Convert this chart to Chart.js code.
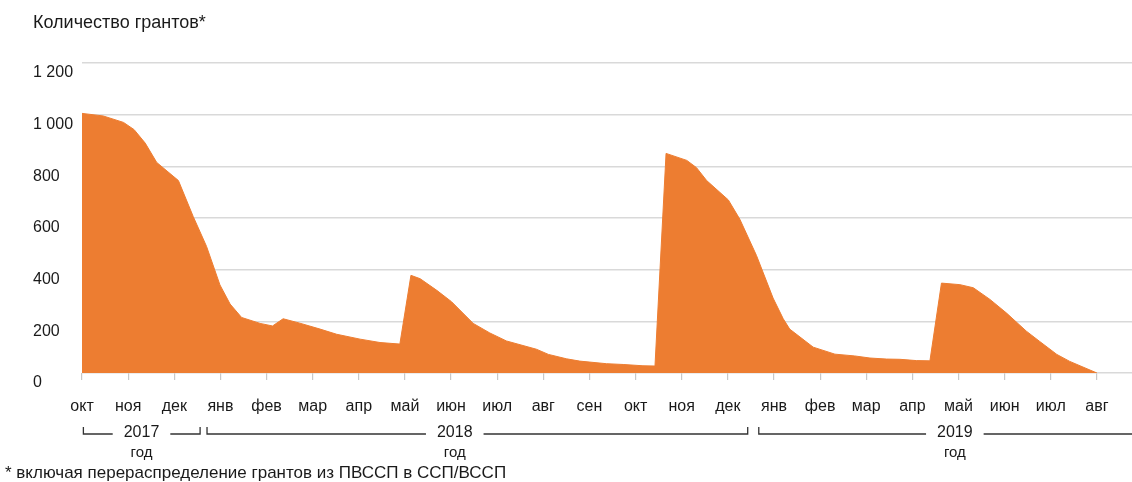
<!DOCTYPE html>
<html lang="ru">
<head>
<meta charset="utf-8">
<script src="https://cdn.jsdelivr.net/npm/chart.js@4.4.1/dist/chart.umd.min.js"></script>
<style>
    body { margin: 0; background: #fff; font-family: "Liberation Sans", Arial, sans-serif; color: #1a1a1a; }
    #wrap { position: relative; width: 1132px; height: 482px; }
    #title { position: absolute; left: 33px; top: 12px; font-size: 18px; }
    #note { position: absolute; left: 5px; top: 463px; font-size: 17px; }
</style>
</head>
<body>
<div id="wrap">
    <canvas id="grantsChart" width="1132" height="482"></canvas>
    <div id="title">Количество грантов*</div>
    <div id="note">* включая перераспределение грантов из ПВССП в ССП/ВССП</div>
</div>
<script>
// months from the start of October 2017
const monthLabels = ["окт", "ноя", "дек", "янв", "фев", "мар", "апр", "май", "июн", "июл", "авг", "сен",
    "окт", "ноя", "дек", "янв", "фев", "мар", "апр", "май", "июн", "июл", "авг"];

const timePoints = [0, 0.46, 0.90, 1.13, 1.37, 1.62, 2.09, 2.41, 2.70, 2.99, 3.21, 3.46, 3.86, 4.13, 4.36,
    4.72, 5.16, 5.52, 6.03, 6.46, 6.89, 7.13, 7.33, 7.69, 8.01, 8.48, 8.84, 9.20, 9.85, 10.11, 10.50,
    10.79, 11.37, 11.73, 12.16, 12.42, 12.66, 13.11, 13.32, 13.54, 14.01, 14.26, 14.62, 14.98, 15.20,
    15.34, 15.85, 16.32, 16.75, 17.08, 17.44, 17.73, 18.09, 18.38, 18.63, 19.03, 19.32, 19.68, 20.04,
    20.47, 20.76, 21.13, 21.41, 22.0];

const grantCounts = [1005, 995, 970, 942, 890, 815, 745, 606, 490, 341, 267, 215, 192, 182, 210,
    193, 170, 150, 131, 118, 112, 378, 365, 320, 276, 192, 155, 124, 92, 72, 55,
    46, 36, 33, 28, 27, 850, 823, 795, 745, 670, 595, 455, 290, 210,
    170, 100, 73, 66, 58, 54, 53, 48, 47, 348, 342, 330, 285, 232,
    162, 122, 72, 45, 0];

const yTicks = [0, 200, 400, 600, 800, 1000, 1200];

const years = [
    { label: "2017", from: 0.03, to: 2.56, center: 1.29, endTick: true },
    { label: "2018", from: 2.71, to: 14.43, center: 8.08, endTick: true },
    { label: "2019", from: 14.67, to: 22.76, center: 18.92, endTick: false }
];

const FONT = "'Liberation Sans', Arial, sans-serif";

// brackets with year labels under the month axis
const yearBrackets = {
    id: "yearBrackets",
    afterDraw(chart) {
        const ctx = chart.ctx;
        const x = chart.scales.x;
        const lineY = 434, tickTop = 427;
        ctx.save();
        ctx.strokeStyle = "#333";
        ctx.lineWidth = 1.3;
        ctx.fillStyle = "#1a1a1a";
        ctx.textAlign = "center";
        ctx.textBaseline = "middle";
        years.forEach(y => {
            const x0 = x.getPixelForValue(y.from);
            const x1 = Math.min(x.getPixelForValue(y.to), chart.width);
            const xc = x.getPixelForValue(y.center);
            ctx.font = "16px " + FONT;
            const half = ctx.measureText(y.label).width / 2 + 11;
            ctx.beginPath();
            ctx.moveTo(x0, tickTop);
            ctx.lineTo(x0, lineY);
            ctx.lineTo(xc - half, lineY);
            ctx.moveTo(xc + half, lineY);
            ctx.lineTo(x1, lineY);
            if (y.endTick) ctx.lineTo(x1, tickTop);
            ctx.stroke();
            ctx.fillText(y.label, xc, 433);
            ctx.font = "15px " + FONT;
            ctx.fillText("год", xc, 453);
        });
        ctx.restore();
    }
};

new Chart(document.getElementById("grantsChart"), {
    type: "line",
    data: {
        datasets: [{
            data: timePoints.map((t, i) => ({ x: t, y: grantCounts[i] })),
            borderColor: "#ED7D31",
            backgroundColor: "#ED7D31",
            borderWidth: 1,
            fill: "origin",
            pointRadius: 0,
            tension: 0
        }]
    },
    options: {
        responsive: false,
        animation: false,
        layout: { padding: { left: 33, top: 63, right: 0, bottom: 0 } },
        plugins: { legend: { display: false }, tooltip: { enabled: false } },
        scales: {
            x: {
                type: "linear",
                min: 0,
                max: 22.76,
                afterBuildTicks: s => { s.ticks = monthLabels.map((m, i) => ({ value: i })); },
                afterFit: s => { s.height = 109; },
                grid: { drawOnChartArea: false, drawTicks: true, tickLength: 7, color: "#c8c8c8", lineWidth: 1.2 },
                border: { display: false },
                ticks: {
                    maxRotation: 0,
                    autoSkip: false,
                    padding: 17,
                    color: "#1a1a1a",
                    font: { family: FONT, size: 16 },
                    callback: v => monthLabels[v]
                }
            },
            y: {
                min: 0,
                max: 1200,
                afterBuildTicks: s => { s.ticks = yTicks.map(v => ({ value: v })); },
                afterFit: s => { s.width = 49; },
                grid: { drawTicks: false, color: "#d9d9d9", lineWidth: 1.5 },
                border: { display: false },
                ticks: {
                    crossAlign: "far",
                    labelOffset: 10,
                    color: "#1a1a1a",
                    font: { family: FONT, size: 16 },
                    callback: v => v >= 1000 ? Math.floor(v / 1000) + " " + String(v % 1000).padStart(3, "0") : String(v)
                }
            }
        }
    },
    plugins: [yearBrackets]
});
</script>
</body>
</html>
